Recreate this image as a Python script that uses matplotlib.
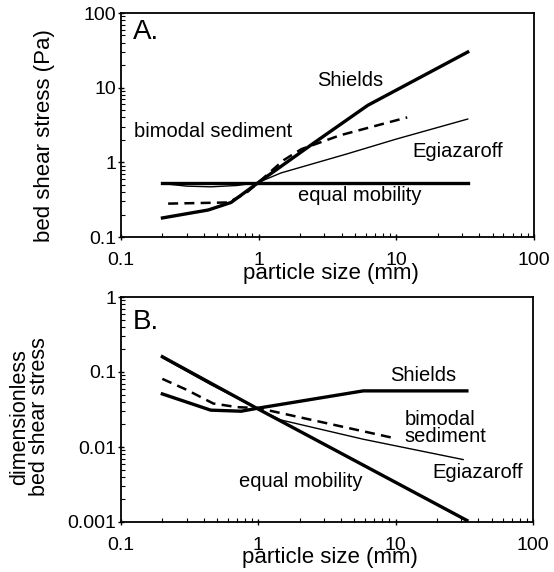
import matplotlib
matplotlib.use("Agg")
import matplotlib.pyplot as plt

plt.rcParams['font.family'] = ['Liberation Sans', 'DejaVu Sans']

# Panel A: bed shear stress (Pa) vs particle size (mm)
shields_a_x = [0.2, 0.43, 0.63, 1.0, 2.5, 6.2, 33]
shields_a_y = [0.18, 0.23, 0.29, 0.54, 1.8, 5.8, 30]
bimodal_a_x = [0.22, 0.6, 0.8, 1.0, 1.26, 1.52, 2.04, 3.9, 12]
bimodal_a_y = [0.28, 0.29, 0.38, 0.54, 0.79, 1.07, 1.5, 2.3, 4.0]
egia_a_x = [0.2, 0.3, 0.45, 0.7, 1.0, 1.45, 4.4, 10, 33]
egia_a_y = [0.52, 0.48, 0.47, 0.49, 0.54, 0.72, 1.3, 2.05, 3.8]
equal_a_x = [0.2, 1.0, 33]
equal_a_y = [0.53, 0.53, 0.53]

# Panel B: dimensionless bed shear stress vs particle size (mm)
shields_b_x = [0.2, 0.45, 0.75, 1.0, 5.8, 33]
shields_b_y = [0.051, 0.031, 0.030, 0.033, 0.056, 0.056]
bimodal_b_x = [0.2, 0.3, 0.47, 0.7, 1.0, 1.8, 10]
bimodal_b_y = [0.081, 0.058, 0.038, 0.034, 0.033, 0.026, 0.013]
egia_b_x = [0.2, 0.45, 1.0, 1.45, 5.8, 31]
egia_b_y = [0.155, 0.068, 0.032, 0.023, 0.0127, 0.0068]
equal_b_x = [0.2, 1.0, 33]
equal_b_y = [0.16, 0.032, 0.00105]

x_ticks = [0.1, 1, 10, 100]
x_labels = ['0.1', '1', '10', '100']
ya_ticks = [0.1, 1, 10, 100]
ya_labels = ['0.1', '1', '10', '100']
yb_ticks = [0.001, 0.01, 0.1, 1]
yb_labels = ['0.001', '0.01', '0.1', '1']

fig = plt.figure(figsize=(5.54, 5.72), dpi=100)
ax1 = fig.add_axes([121/554, 1-237/572, 413/554, 224/572])
ax2 = fig.add_axes([121/554, 1-522/572, 412/554, 225/572])


def style_axes(ax, yticks, ylabels, ylim):
	ax.set_xscale('log')
	ax.set_yscale('log')
	ax.set_xlim(0.1, 100)
	ax.set_ylim(*ylim)
	ax.set_xticks(x_ticks)
	ax.set_xticklabels(x_labels)
	ax.set_yticks(yticks)
	ax.set_yticklabels(ylabels)
	ax.tick_params(which='major', direction='inout', length=5, width=1,
		labelsize=14, pad=1)
	ax.tick_params(which='minor', direction='in', length=3, width=0.8)
	ax.tick_params(axis='x', which='major', pad=8)
	for s in ax.spines.values():
		s.set_linewidth(1.3)
	ax.set_xlabel('particle size (mm)', fontsize=16, va='center')
	ax.xaxis.set_label_coords(0.508, -36/ax.bbox.height)


thick = 2.4
thin = 1.0

# Panel A
ax1.plot(shields_a_x, shields_a_y, color='k', lw=thick)
ax1.plot(bimodal_a_x, bimodal_a_y, color='k', lw=1.8, ls=(0, (4, 2.5)))
ax1.plot(egia_a_x, egia_a_y, color='k', lw=thin)
ax1.plot(equal_a_x, equal_a_y, color='k', lw=thick)
style_axes(ax1, ya_ticks, ya_labels, (0.1, 100))
ax1.set_ylabel('bed shear stress (Pa)', fontsize=16)
ax1.yaxis.set_label_coords(-0.16, 0.455)
ax1.text(0.122, 55, 'A.', fontsize=20, va='center')
ax1.text(4.6, 12.6, 'Shields', fontsize=14.5, ha='center', va='center')
ax1.text(0.124, 2.6, 'bimodal sediment', fontsize=14.5, va='center')
ax1.text(13, 1.41, 'Egiazaroff', fontsize=14.5, va='center')
ax1.text(1.92, 0.355, 'equal mobility', fontsize=14.5, va='center')

# Panel B
ax2.plot(shields_b_x, shields_b_y, color='k', lw=thick)
ax2.plot(bimodal_b_x, bimodal_b_y, color='k', lw=1.8, ls=(0, (4, 2.5)))
ax2.plot(egia_b_x, egia_b_y, color='k', lw=thin)
ax2.plot(equal_b_x, equal_b_y, color='k', lw=thick)
style_axes(ax2, yb_ticks, yb_labels, (0.001, 1))
ax2.set_ylabel('dimensionless\nbed shear stress', fontsize=15.5,
	linespacing=0.92)
ax2.yaxis.set_label_coords(-0.172, 0.467)
ax2.text(0.122, 0.47, 'B.', fontsize=20, va='center')
ax2.text(9.06, 0.089, 'Shields', fontsize=14.5, va='center')
ax2.text(11.6, 0.018, 'bimodal\nsediment', fontsize=14.5, va='center',
	linespacing=0.85)
ax2.text(18.6, 0.0046, 'Egiazaroff', fontsize=14.5, va='center')
ax2.text(0.72, 0.0035, 'equal mobility', fontsize=14.5, va='center')

fig.savefig('out.png', dpi=100)
